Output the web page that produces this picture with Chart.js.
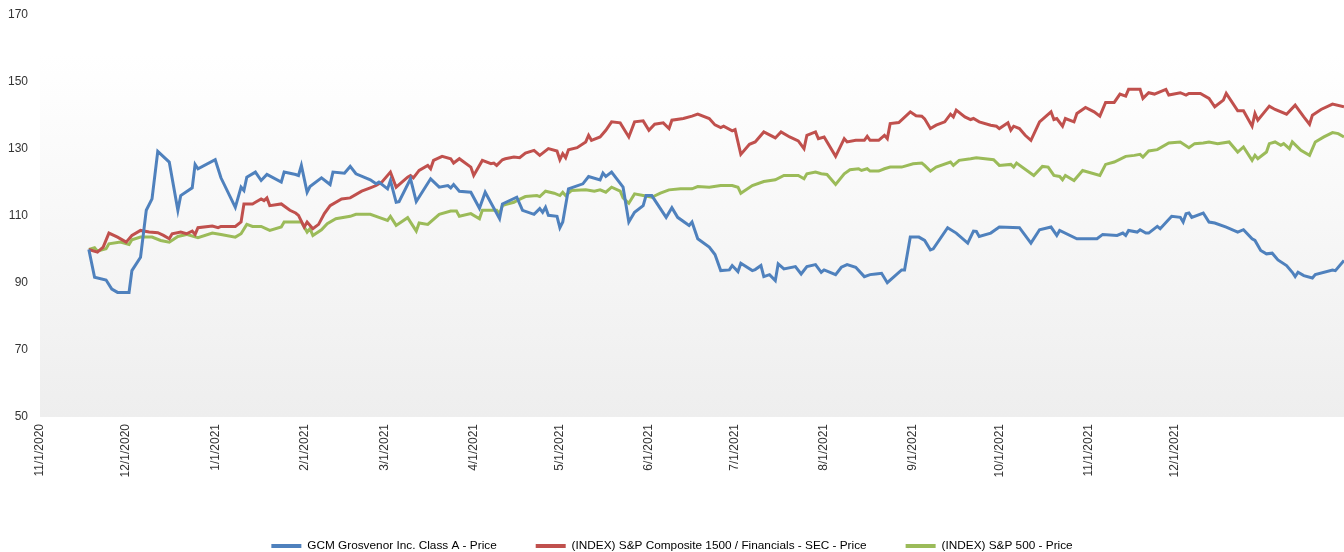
<!DOCTYPE html>
<html>
<head>
<meta charset="utf-8">
<script src="https://cdn.jsdelivr.net/npm/chart.js@4/dist/chart.umd.min.js"></script>
<style>
  html, body { margin: 0; padding: 0; background: #ffffff; }
  #wrap { width: 1344px; height: 552px; position: relative; }
</style>
</head>
<body>
<div id="wrap"><canvas id="c"></canvas></div>
<script>
// ---- Data (x = days since 11/1/2020, y = indexed price, start = 100) ----
const startDate = '2020-11-01';
const tickLabels = ['11/1/2020','12/1/2020','1/1/2021','2/1/2021','3/1/2021','4/1/2021','5/1/2021',
                    '6/1/2021','7/1/2021','8/1/2021','9/1/2021','10/1/2021','11/1/2021','12/1/2021'];
const xMaxDay = 454;
const yTicks = [50, 70, 90, 110, 130, 150, 170];

const seriesNames = ['GCM Grosvenor Inc. Class A - Price',
                     '(INDEX) S&P Composite 1500 / Financials - SEC - Price',
                     '(INDEX) S&P 500 - Price'];
const seriesColors = ['#4F81BD', '#C0504D', '#9BBB59'];

const gcmDays = [17,19,23,25,27,31,32,35,37,39,41,45,48,49,53,54,55,61,63,68,70,71,72,75,77,79,84,85,89,90,91,93,94,98,101,102,106,108,110,115,117,118,121,122,124,125,129,131,136,139,142,143,144,146,150,153,155,160,161,166,168,172,174,175,176,177,180,181,182,184,189,191,195,196,197,199,203,205,207,210,211,213,218,220,222,226,227,229,233,235,237,240,241,243,244,248,249,251,252,254,256,257,259,263,265,267,270,272,273,277,279,281,284,287,289,291,293,295,300,301,303,306,308,310,311,316,319,323,325,326,327,331,334,341,345,348,352,354,355,361,368,370,375,377,378,379,382,383,385,386,389,390,394,397,398,399,400,401,405,407,409,413,417,419,422,423,425,427,429,431,434,436,437,438,440,443,444,450,451,454];
const gcmValues = [100.0,91.7,90.9,88.2,87.2,87.2,93.7,97.7,111.7,115.1,129.3,126.1,111.7,116.1,118.4,125.4,124.1,126.8,121.4,112.6,118.6,117.6,121.6,123.1,120.6,122.4,120.1,123.1,122.4,122.1,125.1,117.1,118.8,121.4,119.4,123.1,122.8,124.8,122.6,120.8,119.6,120.1,118.1,120.6,114.1,114.3,121.1,114.3,121.1,118.6,119.1,118.4,119.4,117.4,117.1,112.3,117.1,109.2,113.6,115.6,111.7,110.5,112.2,111.1,112.6,110.2,109.9,106.5,108.2,118.1,119.6,121.8,120.8,122.8,121.8,123.1,118.6,108.2,111.1,113.1,116.1,116.1,109.6,112.5,109.6,107.2,108.2,103.2,100.7,98.5,93.7,93.9,95.2,93.4,95.9,93.7,94.0,95.2,91.9,92.5,90.7,95.7,94.2,94.9,92.7,94.9,95.5,93.2,93.9,92.5,94.7,95.5,94.7,91.9,92.5,92.7,92.9,90.1,93.9,93.9,103.7,103.7,102.7,99.9,100.2,106.5,104.9,101.9,105.5,105.4,103.9,104.9,106.7,106.5,101.9,105.9,106.7,104.2,105.7,103.2,103.2,104.5,104.2,104.9,104.2,105.7,105.2,105.9,104.9,104.9,106.9,106.2,109.9,109.6,108.2,110.7,110.9,109.6,110.9,108.2,107.9,106.7,105.2,105.9,103.2,102.7,99.7,98.7,98.9,96.9,95.2,93.2,91.9,93.2,92.2,91.5,92.5,93.9,93.7,96.7];

const finDays = [17,20,22,24,27,30,32,35,38,41,43,45,46,49,51,53,54,55,60,62,63,68,70,71,74,75,77,78,79,80,84,87,89,90,92,93,95,97,99,101,105,108,112,115,117,119,122,124,128,129,130,132,135,136,137,140,143,144,146,150,151,154,157,158,159,161,162,165,167,169,172,174,177,180,181,182,183,184,187,190,191,192,195,197,199,202,205,207,210,212,214,217,219,220,224,227,229,233,235,237,238,241,242,244,247,249,252,256,258,261,264,266,267,270,271,273,277,280,281,284,287,288,289,292,294,295,296,299,303,305,307,308,310,312,315,317,318,319,322,324,325,327,331,333,334,337,338,339,341,343,345,348,352,353,354,356,357,360,361,364,367,369,371,374,376,378,379,381,383,384,386,388,392,393,397,399,400,404,407,409,412,413,417,419,422,423,424,428,430,434,437,440,442,443,446,450,454];
const finValues = [100.0,99.2,100.7,104.9,103.7,102.2,104.2,105.7,105.2,105.0,104.2,103.2,104.7,105.2,104.7,105.5,104.5,106.5,107.0,106.5,106.9,106.9,108.2,113.6,113.6,114.1,115.1,114.6,115.4,113.1,113.6,111.7,110.9,110.2,106.7,108.2,106.2,107.5,110.7,113.1,115.1,115.4,117.4,118.4,119.1,120.1,123.1,118.6,121.6,122.1,121.4,123.6,125.1,124.1,126.6,127.8,127.1,125.8,127.1,124.6,122.1,126.6,125.6,125.8,125.1,126.8,127.1,127.6,127.4,128.8,129.6,128.1,130.1,129.4,126.8,128.6,127.4,129.8,130.4,132.1,134.1,132.6,133.6,135.6,138.1,137.8,133.6,138.1,138.4,135.6,137.4,137.8,136.1,138.6,139.1,139.8,140.4,139.1,137.2,136.4,136.8,135.4,135.8,128.4,131.4,132.1,135.1,133.3,135.1,133.6,132.4,130.1,134.1,135.1,133.1,133.6,127.8,133.1,132.1,132.6,132.6,133.8,132.6,132.6,134.1,133.1,137.6,137.9,141.1,139.9,139.8,139.0,136.1,137.1,138.1,140.4,139.6,141.6,139.6,138.8,139.1,138.1,137.1,136.8,136.1,137.8,135.6,136.8,136.1,134.1,132.6,138.1,141.1,138.8,139.1,136.8,139.1,138.1,140.6,142.4,141.1,139.8,143.9,143.9,146.4,145.8,147.8,147.8,147.8,145.1,146.8,146.4,147.8,146.1,146.8,146.1,146.6,146.6,145.1,142.6,144.6,146.6,141.4,141.4,136.8,140.6,138.6,142.8,141.8,140.4,143.1,139.6,137.4,140.1,141.8,143.4,142.6];

const spxDays = [17,19,20,23,24,28,31,32,35,39,42,45,48,51,55,60,63,68,70,72,74,77,80,84,85,89,91,93,94,95,98,100,103,108,110,115,118,121,122,124,128,131,132,135,139,143,145,146,150,153,154,159,160,161,162,165,166,169,173,174,176,179,181,182,183,185,190,193,195,197,199,202,203,205,207,210,213,216,219,223,227,229,233,237,241,243,244,248,252,256,259,264,266,267,270,272,274,277,280,282,285,286,288,289,292,294,296,300,304,307,308,310,312,317,318,320,324,326,332,334,338,339,340,346,349,351,353,355,356,357,360,363,369,371,374,378,381,383,384,386,389,393,397,400,402,405,407,410,414,417,419,422,423,424,427,428,430,432,433,435,436,439,442,444,447,450,452,454];
const spxValues = [100.0,100.5,99.5,100.2,101.7,102.2,101.5,102.9,103.7,103.7,102.7,102.2,103.9,104.5,103.5,104.9,104.5,103.7,104.7,107.5,106.9,106.9,105.7,106.7,108.2,108.2,108.2,105.2,106.2,104.2,105.9,107.7,109.2,109.9,110.5,110.5,109.6,108.7,109.9,107.2,109.5,105.5,107.9,107.5,110.5,111.5,111.5,109.9,110.7,109.2,111.7,111.7,110.7,113.1,113.4,114.1,114.6,115.8,116.1,115.8,117.4,116.8,116.1,117.1,116.1,117.6,117.8,117.4,117.8,117.1,118.6,117.4,115.4,113.8,116.6,116.1,115.6,116.8,117.8,118.1,118.1,118.8,118.6,119.1,119.1,118.6,116.8,119.1,120.3,120.8,122.1,122.1,121.1,122.6,123.1,122.6,122.4,119.4,122.6,123.8,124.1,123.6,124.1,123.4,123.4,124.1,124.6,124.6,125.6,125.8,125.1,123.4,124.6,126.1,125.1,126.6,127.1,127.4,126.8,125.1,125.4,124.6,125.8,122.1,124.8,124.6,122.1,121.8,120.8,122.1,120.6,123.6,122.1,125.4,126.1,127.8,128.1,128.4,127.6,129.4,129.8,131.8,132.1,130.4,131.6,131.8,132.1,131.6,132.1,129.1,130.6,126.6,128.1,127.1,129.1,131.6,132.1,131.1,131.6,130.1,132.1,129.6,128.1,132.1,133.6,134.9,134.6,133.6];

// ---- Build ----
const DAY = 86400000;
const t0 = Date.parse(startDate + 'T00:00:00Z');
function labelToDay(lbl) {
  const [m, d, y] = lbl.split('/').map(Number);
  return Math.round((Date.UTC(y, m - 1, d) - t0) / DAY);
}
const tickDays = tickLabels.map(labelToDay);
function toPoints(days, vals) { return days.map((d, i) => ({ x: d, y: vals[i] })); }

const allDays = [gcmDays, finDays, spxDays];
const allVals = [gcmValues, finValues, spxValues];

const FONT = '"Liberation Sans", Arial, sans-serif';
Chart.defaults.font.family = FONT;
Chart.defaults.font.size = 12;
Chart.defaults.color = '#333333';

const bgPlugin = {
  id: 'plotBg',
  beforeDraw(chart) {
    const { ctx, chartArea: a } = chart;
    const g = ctx.createLinearGradient(0, a.top, 0, a.bottom);
    g.addColorStop(0, '#ffffff');
    g.addColorStop(0.1, '#ffffff');
    g.addColorStop(1, '#eeeeee');
    ctx.save();
    ctx.fillStyle = g;
    ctx.fillRect(a.left, a.top, a.right - a.left, a.bottom - a.top);
    ctx.restore();
  }
};

const chart = new Chart(document.getElementById('c'), {
  type: 'line',
  data: {
    datasets: seriesNames.map((name, i) => ({
      label: name,
      data: toPoints(allDays[i], allVals[i]),
      borderColor: seriesColors[i],
      backgroundColor: seriesColors[i],
      borderWidth: 3,
      pointRadius: 0,
      pointHoverRadius: 0,
      tension: 0,
      fill: false
    }))
  },
  options: {
    responsive: true,
    maintainAspectRatio: false,
    animation: false,
    layout: { autoPadding: false, padding: { top: 15, right: 0, left: 0, bottom: 0 } },
    plugins: {
      tooltip: { enabled: false },
      legend: {
        position: 'bottom',
        labels: {
          boxWidth: 30,
          boxHeight: 4,
          padding: 39,
          color: '#333333',
          font: { size: 11.8, family: FONT },
          generateLabels(chart) {
            return chart.data.datasets.map((ds, i) => ({
              text: ds.label,
              fillStyle: ds.borderColor,
              strokeStyle: ds.borderColor,
              lineWidth: 0,
              hidden: false,
              datasetIndex: i
            }));
          }
        }
      }
    },
    scales: {
      x: {
        type: 'linear',
        min: 0,
        max: xMaxDay,
        grid: { display: false, drawTicks: false },
        border: { display: false },
        afterBuildTicks(scale) { scale.ticks = tickDays.map(v => ({ value: v })); },
        afterFit(scale) { scale.height = 84.2; scale.paddingLeft = 0; scale.paddingRight = 0; },
        ticks: {
          autoSkip: false,
          minRotation: 90,
          maxRotation: 90,
          padding: 7,
          color: '#333333',
          callback(value) {
            const i = tickDays.indexOf(value);
            return i >= 0 ? tickLabels[i] : '';
          }
        }
      },
      y: {
        min: yTicks[0],
        max: yTicks[yTicks.length - 1],
        grid: { display: false, drawTicks: false },
        border: { display: false },
        afterBuildTicks(scale) { scale.ticks = yTicks.map(v => ({ value: v })); },
        afterFit(scale) { scale.width = 40; scale.paddingTop = 0; scale.paddingBottom = 0; },
        ticks: { padding: 12, color: '#333333' }
      }
    }
  },
  plugins: [bgPlugin]
});

// Trim the legend's reserved bottom space so its row sits near the canvas bottom
const origFit = chart.legend.fit;
chart.legend.fit = function () { origFit.call(this); this.height -= 10; };
chart.update();
</script>
</body>
</html>
